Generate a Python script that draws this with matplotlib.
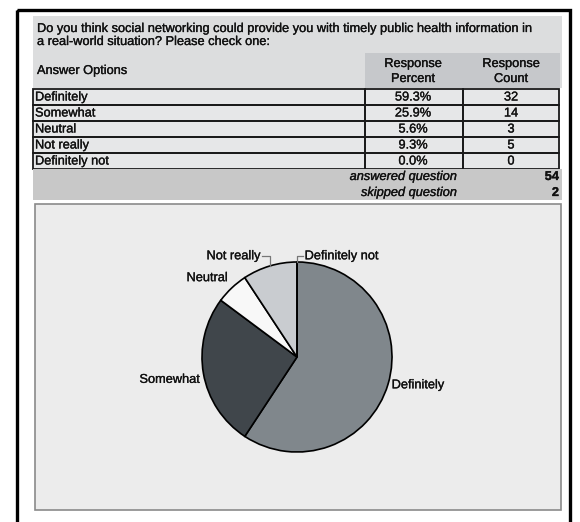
import matplotlib
matplotlib.use("Agg")
import matplotlib.pyplot as plt
import matplotlib.patheffects as pe
from matplotlib.patches import Rectangle
import numpy as np

plt.rcParams['font.family'] = ['Liberation Sans', 'DejaVu Sans']

# survey data
question = ("Do you think social networking could provide you with timely public health information in\n"
            "a real-world situation? Please check one:")
options = ["Definitely", "Somewhat", "Neutral", "Not really", "Definitely not"]
percents = [59.3, 25.9, 5.6, 9.3, 0.0]
counts = [32, 14, 3, 5, 0]
answered = 54
skipped = 2
slice_colors = ["#80878c", "#40464b", "#f8f8f8", "#c9ccd0", "#e0e0e0"]

fs = 9.2
ink = "#111111"
# scanned print looks a bit heavier than plain regular
heavy = [pe.withStroke(linewidth=0.22, foreground=ink)]

fig = plt.figure(figsize=(5.8, 5.22), dpi=100)
bg = fig.add_axes([0, 0, 1, 1])
bg.set_xlim(0, 580)
bg.set_ylim(522, 0)
bg.axis('off')


def txt(ax, x, y, s, **kw):
    kw.setdefault('fontsize', fs)
    kw.setdefault('va', 'center')
    kw.setdefault('color', ink)
    ax.text(x, y, s, path_effects=heavy, **kw)


# outer frame
bg.add_patch(Rectangle((17, 10), 553, 520, fill=False, ec="black", lw=2.4))

# question / header block
bg.add_patch(Rectangle((33, 16), 529, 72, fc="#dcddde", ec="none"))
bg.add_patch(Rectangle((365, 53), 195, 35, fc="#c6c8cb", ec="none"))
qlines = question.split("\n")
txt(bg, 37, 29, qlines[0], ha="left")
txt(bg, 37, 42, qlines[1], ha="left")
txt(bg, 37, 71, "Answer Options", ha="left")
txt(bg, 413, 64, "Response", ha="center")
txt(bg, 413, 79, "Percent", ha="center")
txt(bg, 511, 64, "Response", ha="center")
txt(bg, 511, 79, "Count", ha="center")

# table rows
top = 89
rh = 16
bg.add_patch(Rectangle((33, top), 527, rh * len(options), fc="#e6e7e8", ec="none"))
for i, (opt, p, c) in enumerate(zip(options, percents, counts)):
    y = top + rh * i
    bg.add_patch(Rectangle((33, y), 332, rh, fill=False, ec="#1a1a1a", lw=1.3))
    bg.add_patch(Rectangle((365, y), 98, rh, fill=False, ec="#1a1a1a", lw=1.3))
    bg.add_patch(Rectangle((463, y), 96, rh, fill=False, ec="#1a1a1a", lw=1.3))
    txt(bg, 35, y + rh / 2 + 0.5, opt, ha="left")
    txt(bg, 413, y + rh / 2 + 0.5, "%.1f%%" % p, ha="center")
    txt(bg, 511, y + rh / 2 + 0.5, str(c), ha="center")

# summary band
sy = top + rh * len(options)
bg.add_patch(Rectangle((33, sy), 529, 31, fc="#c8c8c8", ec="none"))
txt(bg, 457, sy + 8, "answered question", style="italic", ha="right")
txt(bg, 457, sy + 24, "skipped question", style="italic", ha="right")
txt(bg, 559, sy + 8, str(answered), weight="bold", ha="right")
txt(bg, 559, sy + 24, str(skipped), weight="bold", ha="right")

# chart panel
bg.add_patch(Rectangle((35, 204), 526, 306, fc="#ececec", ec="#8a8a8a", lw=1.2))

# pie
cx, cy, r = 297, 357, 95
pax = fig.add_axes([(cx - r) / 580, (522 - cy - r) / 522, 2 * r / 580, 2 * r / 522])
wedges, _ = pax.pie(counts, colors=slice_colors, startangle=90, counterclock=False,
                    wedgeprops=dict(edgecolor="black", linewidth=1.2))
pax.set_xlim(-1, 1)
pax.set_ylim(-1, 1)
pax.axis('off')

for w, name in zip(wedges, options):
    mid = np.deg2rad((w.theta1 + w.theta2) / 2)
    ex, ey = np.cos(mid), np.sin(mid)
    if name == "Definitely":
        txt(pax, 1.04 * ex, 1.04 * ey, name, ha="left", clip_on=False)
    elif name == "Somewhat":
        txt(pax, 1.04 * ex, 1.04 * ey - 0.06, name, ha="right", clip_on=False)
    elif name == "Neutral":
        txt(pax, -0.73, 0.83, name, ha="right", clip_on=False)
    elif name == "Not really":
        pax.plot([ex, ex, ex - 0.08], [ey, 1.06, 1.06], color="#777777", lw=0.9, clip_on=False)
        txt(pax, ex - 0.1, 1.06, name, ha="right", clip_on=False)
    elif name == "Definitely not":
        pax.plot([ex, ex, ex + 0.06], [ey, 1.06, 1.06], color="#777777", lw=0.9, clip_on=False)
        txt(pax, ex + 0.08, 1.06, name, ha="left", clip_on=False)

fig.savefig("out.png", dpi=100)
